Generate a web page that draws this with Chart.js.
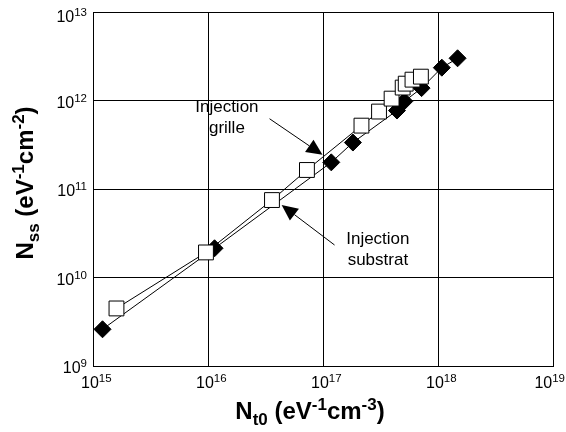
<!DOCTYPE html>
<html>
<head>
<meta charset="utf-8">
<script src="https://cdn.jsdelivr.net/npm/chart.js@4.4.1/dist/chart.umd.min.js"></script>
<style>
  html, body { margin: 0; padding: 0; background: #fff; }
  #wrap { width: 566px; height: 432px; position: relative; }
</style>
</head>
<body>
<div id="wrap"><canvas id="chart"></canvas></div>
<script>
// decades shown on each axis
const xTicks = [1e15, 1e16, 1e17, 1e18, 1e19];
const yTicks = [1e9, 1e10, 1e11, 1e12, 1e13];

// filled diamonds
const grilleX = [1.21e15, 1.14e16, 1.18e17, 1.82e17, 4.4e17, 5.1e17, 7.2e17, 1.08e18, 1.48e18];
const grilleY = [2.6e9, 2.14e10, 2.0e11, 3.35e11, 7.7e11, 9.8e11, 1.38e12, 2.35e12, 3.0e12];

// open squares
const substratX = [1.6e15, 9.6e15, 3.6e16, 7.25e16, 2.16e17, 3.07e17, 3.95e17, 4.93e17, 5.24e17, 6.0e17, 7.1e17];
const substratY = [4.47e9, 1.92e10, 7.5e10, 1.64e11, 5.2e11, 7.5e11, 1.05e12, 1.4e12, 1.55e12, 1.72e12, 1.86e12];

// annotations: label anchor + arrow tail/tip, in data units
const notes = [
  { lines: ['Injection', 'grille'], at: [1.46e16, 7.4e11], tail: [3.43e16, 6.22e11], tip: [9.9e16, 2.43e11] },
  { lines: ['Injection', 'substrat'], at: [3.0e17, 2.4e10], tail: [1.26e17, 2.33e10], tip: [4.37e16, 6.6e10] }
];

const FONT = '"Liberation Sans", Arial, sans-serif';

const toPts = (xs, ys) => xs.map((x, i) => ({ x: x, y: ys[i] }));

const textWidth = (ctx, parts) => parts.reduce((w, p) => { ctx.font = p.font; return w + ctx.measureText(p.t).width; }, 0);

// draws a row of text pieces (for super/subscripts)
function richText(ctx, parts, x, y, align) {
  const w = textWidth(ctx, parts);
  let cx = align === 'center' ? x - w / 2 : (align === 'right' ? x - w : x);
  parts.forEach(p => {
    ctx.font = p.font;
    ctx.fillText(p.t, cx, y + (p.dy || 0));
    cx += ctx.measureText(p.t).width;
  });
}

const pow10 = v => Math.round(Math.log10(v));

const decorPlugin = {
  id: 'decor',
  afterDraw(chart) {
    const { ctx, chartArea: a } = chart;
    const sx = chart.scales.x, sy = chart.scales.y;
    ctx.save();
    ctx.fillStyle = '#000';
    ctx.textBaseline = 'alphabetic';

    // frame
    ctx.strokeStyle = '#000';
    ctx.lineWidth = 1;
    ctx.strokeRect(Math.round(a.left) + 0.5, Math.round(a.top) + 0.5,
      Math.round(a.right - a.left), Math.round(a.bottom - a.top));

    // tick labels
    const big = '16px ' + FONT, small = '11.5px ' + FONT;
    const label = v => [{ t: '10', font: big }, { t: String(pow10(v)), font: small, dy: -6 }];
    xTicks.forEach(v => {
      const px = sx.getPixelForValue(v);
      const parts = label(v);
      const left = Math.min(px - 12, chart.width - textWidth(ctx, parts) - 1);
      richText(ctx, parts, left, a.bottom + 22, 'left');
    });
    yTicks.forEach(v => {
      const py = sy.getPixelForValue(v);
      richText(ctx, label(v), a.left - 6, Math.max(py + 7, a.top + 10), 'right');
    });

    // axis titles
    const tb = 'bold 24px ' + FONT, ts = 'bold 17px ' + FONT;
    richText(ctx, [
      { t: 'N', font: tb }, { t: 't0', font: ts, dy: 6 }, { t: ' (eV', font: tb },
      { t: '-1', font: ts, dy: -9 }, { t: 'cm', font: tb }, { t: '-3', font: ts, dy: -9 }, { t: ')', font: tb }
    ], 310, 419, 'center');

    ctx.save();
    ctx.translate(33, 183);
    ctx.rotate(-Math.PI / 2);
    richText(ctx, [
      { t: 'N', font: tb }, { t: 'ss', font: ts, dy: 6 }, { t: ' (eV', font: tb },
      { t: '-1', font: ts, dy: -9 }, { t: 'cm', font: tb }, { t: '-2', font: ts, dy: -9 }, { t: ')', font: tb }
    ], 0, 0, 'center');
    ctx.restore();

    // annotations
    ctx.font = '17px ' + FONT;
    ctx.textAlign = 'center';
    notes.forEach(n => {
      const lx = sx.getPixelForValue(n.at[0]), ly = sy.getPixelForValue(n.at[1]);
      n.lines.forEach((s, i) => ctx.fillText(s, lx, ly + i * 21));
      const x0 = sx.getPixelForValue(n.tail[0]), y0 = sy.getPixelForValue(n.tail[1]);
      const x1 = sx.getPixelForValue(n.tip[0]), y1 = sy.getPixelForValue(n.tip[1]);
      const ang = Math.atan2(y1 - y0, x1 - x0);
      const hl = 16, hw = 7.5;
      const bx = x1 - hl * Math.cos(ang), by = y1 - hl * Math.sin(ang);
      ctx.beginPath();
      ctx.moveTo(x0, y0);
      ctx.lineTo(bx, by);
      ctx.stroke();
      ctx.beginPath();
      ctx.moveTo(x1, y1);
      ctx.lineTo(bx + hw * Math.sin(ang), by - hw * Math.cos(ang));
      ctx.lineTo(bx - hw * Math.sin(ang), by + hw * Math.cos(ang));
      ctx.closePath();
      ctx.fill();
    });
    ctx.restore();
  }
};

const whiteBg = {
  id: 'whiteBg',
  beforeDraw(chart) {
    const c = chart.ctx;
    c.save();
    c.fillStyle = '#fff';
    c.fillRect(0, 0, chart.width, chart.height);
    c.restore();
  }
};

const decadeAxis = (lo, hi, ticks) => ({
  type: 'logarithmic',
  min: lo,
  max: hi,
  afterBuildTicks: scale => { scale.ticks = ticks.map(v => ({ value: v })); },
  ticks: { display: false },
  grid: { color: '#000', lineWidth: 1, drawTicks: false },
  border: { color: '#000', width: 1 }
});

new Chart(document.getElementById('chart'), {
  type: 'scatter',
  data: {
    datasets: [
      {
        label: 'Injection substrat',
        data: toPts(substratX, substratY),
        showLine: true,
        borderColor: '#000',
        borderWidth: 1,
        pointStyle: 'rect',
        pointRadius: 10.5,
        pointBackgroundColor: '#fff',
        pointBorderColor: '#000',
        pointBorderWidth: 1,
        order: 0
      },
      {
        label: 'Injection grille',
        data: toPts(grilleX, grilleY),
        showLine: true,
        borderColor: '#000',
        borderWidth: 1,
        pointStyle: 'rectRot',
        pointRadius: 8.5,
        pointBackgroundColor: '#000',
        pointBorderColor: '#000',
        pointBorderWidth: 1,
        order: 1
      }
    ]
  },
  options: {
    responsive: true,
    maintainAspectRatio: false,
    animation: false,
    layout: { padding: { left: 93, right: 13, top: 12, bottom: 66 } },
    plugins: {
      legend: { display: false },
      tooltip: { enabled: false }
    },
    scales: {
      x: decadeAxis(1e15, 1e19, xTicks),
      y: decadeAxis(1e9, 1e13, yTicks)
    }
  },
  plugins: [whiteBg, decorPlugin]
});
</script>
</body>
</html>
